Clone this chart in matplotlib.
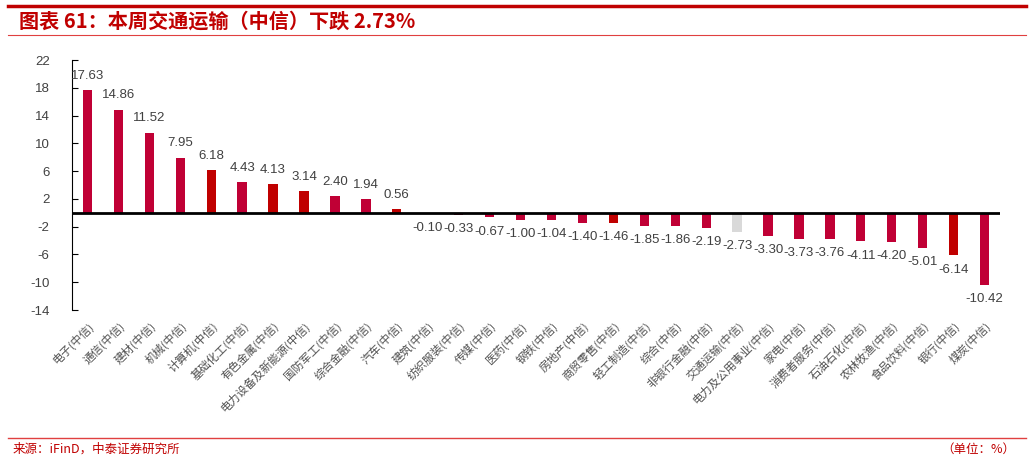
import numpy as np
import matplotlib.pyplot as plt
from matplotlib.lines import Line2D

plt.rcParams['font.family'] = ['Noto Sans CJK SC', 'DejaVu Sans']

industries = ['电子', '通信', '建材', '机械', '计算机', '基础化工', '有色金属', '电力设备及新能源',
              '国防军工', '综合金融', '汽车', '建筑', '纺织服装', '传媒', '医药', '钢铁', '房地产',
              '商贸零售', '轻工制造', '综合', '非银行金融', '交通运输', '电力及公用事业', '家电',
              '消费者服务', '石油石化', '农林牧渔', '食品饮料', '银行', '煤炭']
changes = [17.63, 14.86, 11.52, 7.95, 6.18, 4.43, 4.13, 3.14, 2.40, 1.94, 0.56, -0.10, -0.33,
           -0.67, -1.00, -1.04, -1.40, -1.46, -1.85, -1.86, -2.19, -2.73, -3.30, -3.73, -3.76,
           -4.11, -4.20, -5.01, -6.14, -10.42]
dark_red = ['计算机', '有色金属', '电力设备及新能源', '汽车', '商贸零售', '银行']
highlight = '交通运输'
yticks = list(range(-14, 23, 4))

crimson = '#C00035'
red = '#C00000'
grey = '#D9D9D9'
colors = [grey if n == highlight else (red if n in dark_red else crimson) for n in industries]

fig = plt.figure(figsize=(10.31, 4.62), dpi=100)
ax = fig.add_axes([0.0698, 0.329, 0.9002, 0.541])

x = np.arange(len(industries))
ax.bar(x, changes, width=0.3, color=colors, zorder=2)
ax.axhline(0, color='black', lw=2, zorder=3)

num_font = 'Liberation Sans'
for xi, v in zip(x, changes):
    if v >= 0:
        ax.annotate(f'{v:.2f}', (xi, v), xytext=(0, 6), textcoords='offset points',
                    ha='center', va='bottom', fontsize=9.5, color='#404040', family=num_font)
    else:
        ax.annotate(f'{v:.2f}', (xi, v), xytext=(0, -6), textcoords='offset points',
                    ha='center', va='top', fontsize=9.5, color='#404040', family=num_font)

ax.set_xlim(-0.5, len(industries) - 0.5)
ax.set_ylim(-14, 22)
ax.set_yticks(yticks)
ax.set_yticklabels([str(t) for t in yticks], fontsize=9.5, color='#404040', family=num_font)
ax.tick_params(axis='y', direction='in', length=4, pad=16, color='black')
ax.set_xticks(x)
ax.set_xticklabels([n + '(中信)' for n in industries], rotation=45, ha='right',
                   rotation_mode='anchor', fontsize=8.2, color='#505050')
ax.tick_params(axis='x', length=0, pad=7)
for s in ['top', 'right', 'bottom']:
    ax.spines[s].set_visible(False)
ax.spines['left'].set_color('black')

# header / footer
fig.add_artist(Line2D([0.008, 0.995], [0.988, 0.988], color='#C00000', lw=2.5))
fig.add_artist(Line2D([0.008, 0.995], [0.925, 0.925], color='#E04040', lw=0.8))
fig.text(0.018, 0.955, '图表 61：本周交通运输（中信）下跌 2.73%', color='#C00000',
         fontsize=14.5, fontweight='bold', style='italic', va='center', ha='left')
fig.add_artist(Line2D([0.008, 0.995], [0.052, 0.052], color='#E04040', lw=1))
fig.text(0.012, 0.027, '来源：iFinD，中泰证券研究所', color='#C00000', fontsize=9, va='center')
fig.text(0.985, 0.027, '（单位：%）', color='#C00000', fontsize=9, va='center', ha='right')

fig.savefig('out.png', dpi=100)
